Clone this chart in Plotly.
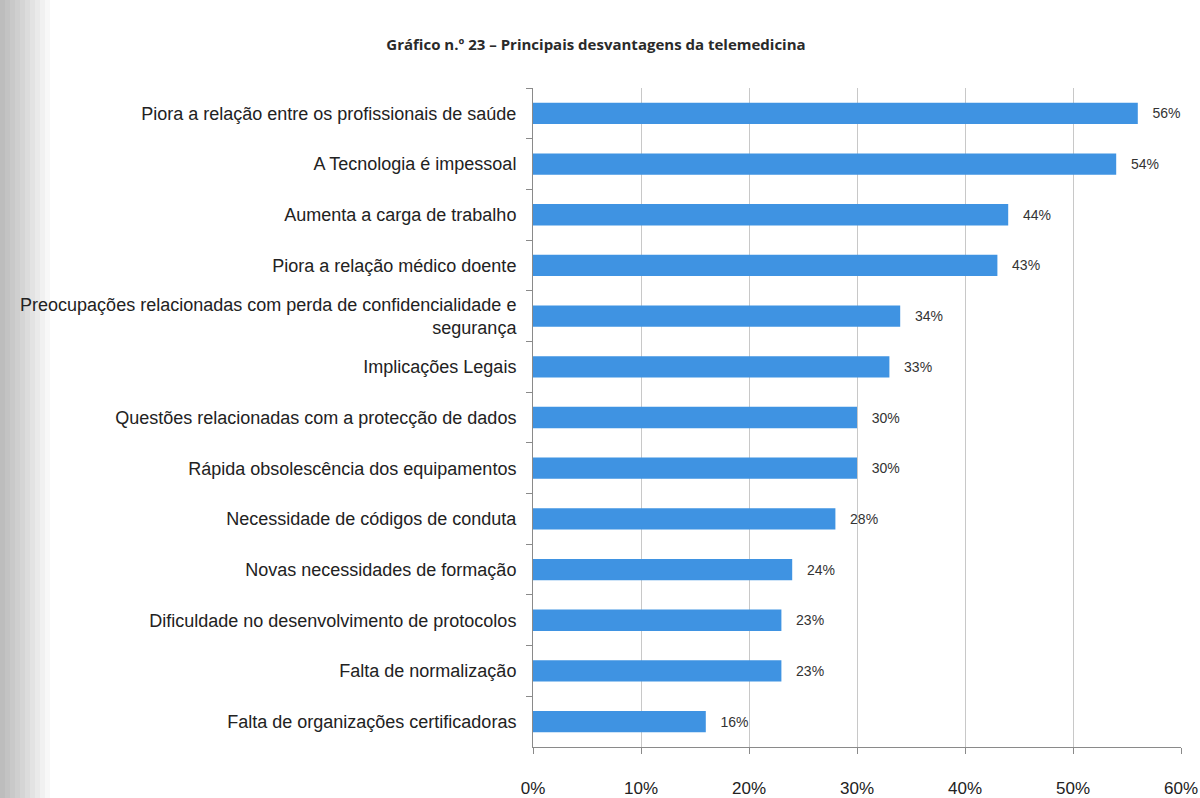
import plotly.graph_objects as go

# Principais desvantagens da telemedicina (% de respostas)
categorias = [
    "Piora a relação entre os profissionais de saúde",
    "A Tecnologia é impessoal",
    "Aumenta a carga de trabalho",
    "Piora a relação médico doente",
    "Preocupações relacionadas com perda de confidencialidade e<br>segurança",
    "Implicações Legais",
    "Questões relacionadas com a protecção de dados",
    "Rápida obsolescência dos equipamentos",
    "Necessidade de códigos de conduta",
    "Novas necessidades de formação",
    "Dificuldade no desenvolvimento de protocolos",
    "Falta de normalização",
    "Falta de organizações certificadoras",
]
valores = [56, 54, 44, 43, 34, 33, 30, 30, 28, 24, 23, 23, 16]
ticks_x = [0, 10, 20, 30, 40, 50, 60]

W, H = 1200, 798
ML, MR, MT, MB = 533, 19, 88, 51
PW, PH = W - ML - MR, H - MT - MB

fig = go.Figure(
    go.Bar(
        x=valores,
        y=categorias,
        orientation="h",
        marker=dict(color="#3f93e2", line=dict(width=0)),
        text=[f"   {v}%" for v in valores],
        textposition="outside",
        cliponaxis=False,
        textfont=dict(family="Liberation Sans", size=14, color="#333333"),
    )
)

# sombra cinzenta na margem esquerda da página (degradê por faixas)
for i in range(10):
    fig.add_shape(
        type="rect", xref="paper", yref="paper",
        x0=-ML / PW, x1=(-ML + 5 * (i + 1)) / PW,
        y0=-MB / PH, y1=(H - MB) / PH,
        fillcolor="#000000", opacity=0.026,
        line=dict(width=0), layer="below",
    )

fig.update_layout(
    width=W,
    height=H,
    margin=dict(l=ML, r=MR, t=MT, b=MB),
    paper_bgcolor="white",
    plot_bgcolor="white",
    showlegend=False,
    bargap=0.58,
    title=dict(
        text="<b>Gráfico n.º 23 – Principais desvantagens da telemedicina</b>",
        x=596 / W, xanchor="center", y=1 - 45 / H, yanchor="middle",
        font=dict(family="Open Sans", size=15, color="#2a2a2a"),
    ),
    font=dict(family="Liberation Sans", size=18, color="#222222"),
)

fig.update_xaxes(
    range=[0, 60],
    tickvals=ticks_x,
    ticktext=[f"{t}%" for t in ticks_x],
    showgrid=True,
    gridcolor="#c8c8c8",
    gridwidth=1,
    zeroline=False,
    showline=True,
    linecolor="#8a8a8a",
    ticks="outside",
    ticklen=6,
    tickcolor="#8a8a8a",
    ticklabelstandoff=20,
    ticklabeloverflow="allow",
    automargin=False,
    tickfont=dict(family="Liberation Sans", size=17, color="#222222"),
)

fig.update_yaxes(
    autorange="reversed",
    showline=True,
    linecolor="#8a8a8a",
    ticks="outside",
    tickson="boundaries",
    ticklen=6,
    tickcolor="#8a8a8a",
    showgrid=False,
    ticklabelstandoff=12,
    automargin=False,
    tickfont=dict(family="Liberation Sans", size=18, color="#222222"),
)

fig.write_html("out.html")
